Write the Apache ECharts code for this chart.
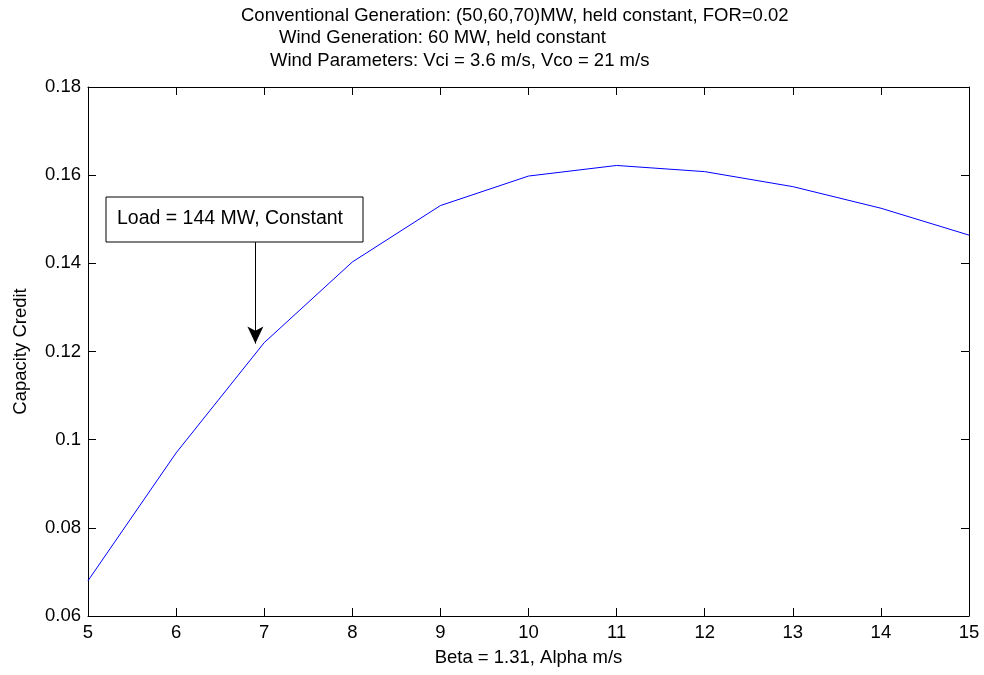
<!DOCTYPE html>
<html><head><meta charset="utf-8">
<script src="https://cdn.jsdelivr.net/npm/echarts@6/dist/echarts.min.js"></script>
<style>html,body{margin:0;padding:0;background:#fff}#c{width:984px;height:675px}</style>
</head><body><div id="c"></div>
<script>
const alphaValues = [5, 6, 7, 8, 9, 10, 11, 12, 13, 14, 15];
const capacityCredit = [0.0680, 0.0970, 0.1220, 0.1403, 0.1531, 0.1598, 0.1622, 0.1608, 0.1574, 0.1525, 0.1464];
const titleLines = [
  'Conventional Generation: (50,60,70)MW, held constant, FOR=0.02',
  'Wind Generation: 60 MW, held constant',
  'Wind Parameters: Vci = 3.6 m/s, Vco = 21 m/s'
];
const annotationText = 'Load = 144 MW, Constant';
const arrowFrom = [6.9, 0.1448];
const arrowTo = [6.9, 0.1218];

const FONT = '"Liberation Sans", Arial, Helvetica, sans-serif';
const FS = 18.5;
const chart = echarts.init(document.getElementById('c'));
const axisCommon = {
  axisLine: {show: true, lineStyle: {color: '#000', width: 1}},
  axisTick: {show: true, inside: true, length: 8, lineStyle: {color: '#000'}},
  splitLine: {show: false}
};
const titleX = [241, 279, 270];
const titleY = [16, 38, 61];
chart.setOption({
  animation: false,
  backgroundColor: '#fff',
  grid: {left: 88, right: 15, top: 87, bottom: 59, containLabel: false},
  xAxis: [
    Object.assign({}, axisCommon, {
      type: 'value', min: 5, max: 15, interval: 1, position: 'bottom',
      name: 'Beta = 1.31, Alpha m/s', nameLocation: 'middle', nameGap: 32,
      nameTextStyle: {fontFamily: FONT, fontSize: FS, color: '#000'},
      axisLabel: {fontFamily: FONT, fontSize: FS, color: '#000', margin: 7}
    }),
    Object.assign({}, axisCommon, {
      type: 'value', min: 5, max: 15, interval: 1, position: 'top',
      axisLabel: {show: false}
    })
  ],
  yAxis: [
    Object.assign({}, axisCommon, {
      type: 'value', min: 0.06, max: 0.18, interval: 0.02, position: 'left',
      name: 'Capacity Credit', nameLocation: 'middle', nameGap: 58, nameRotate: 90,
      nameTextStyle: {fontFamily: FONT, fontSize: FS, color: '#000'},
      axisLabel: {fontFamily: FONT, fontSize: FS, color: '#000', margin: 7,
        formatter: v => String(parseFloat(v.toFixed(2)))}
    }),
    Object.assign({}, axisCommon, {
      type: 'value', min: 0.06, max: 0.18, interval: 0.02, position: 'right',
      axisLabel: {show: false}
    })
  ],
  series: [{
    type: 'line',
    data: alphaValues.map((a, i) => [a, capacityCredit[i]]),
    showSymbol: false,
    lineStyle: {color: '#0000ff', width: 1},
    markLine: {
      silent: true,
      symbol: ['none', 'arrow'],
      symbolSize: [12, 17],
      label: {show: false},
      lineStyle: {color: '#000', width: 1, type: 'solid'},
      data: [[{coord: arrowFrom}, {coord: arrowTo}]]
    }
  }],
  graphic: titleLines.map((t, i) => ({
    type: 'text', x: titleX[i], y: titleY[i],
    style: {text: t, fontFamily: FONT, fontSize: FS, fill: '#000', textVerticalAlign: 'middle'}
  })).concat([{
    type: 'group', x: 106, y: 197,
    children: [
      {type: 'rect', shape: {x: 0, y: 0, width: 257, height: 45},
        style: {fill: '#fff', stroke: '#000', lineWidth: 1}},
      {type: 'text', x: 11, y: 22,
        style: {text: annotationText, fontFamily: FONT, fontSize: 19.5, fill: '#000', textVerticalAlign: 'middle'}}
    ]
  }])
});
</script></body></html>
